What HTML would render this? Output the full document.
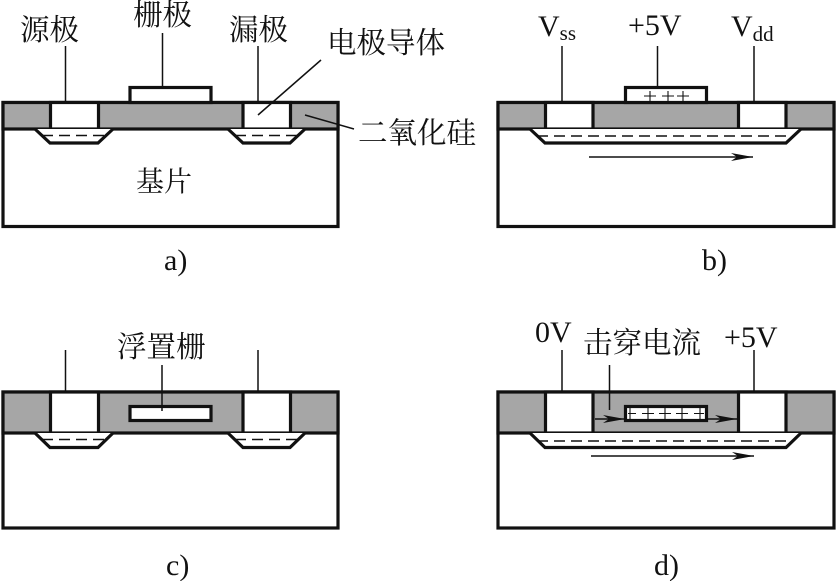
<!DOCTYPE html>
<html><head><meta charset="utf-8"><style>
html,body{margin:0;padding:0;background:#fff}
svg{display:block}
text{fill:#111;font-family:"Liberation Serif","Noto Serif CJK SC",serif}
.c{font-size:29.500px}
.l{font-size:30px}
.s{font-size:21px}
</style></head><body>
<svg width="836" height="581" viewBox="0 0 836 581" xmlns="http://www.w3.org/2000/svg">
<defs><marker id="a" markerWidth="24" markerHeight="10" refX="22" refY="5" orient="auto" markerUnits="userSpaceOnUse"><path d="M0 1L22 5L0 9L6 5Z" fill="#111"/></marker></defs>
<g fill="none" stroke="#111" stroke-width="3.2">
<!-- a -->
<rect x="3" y="102.500" width="335" height="124" fill="#fff"/>
<rect x="3" y="102.500" width="335" height="26.500" fill="#a6a6a6"/>
<rect x="50.500" y="102.500" width="48" height="26.500" fill="#fff"/>
<rect x="243" y="102.500" width="47.500" height="26.500" fill="#fff"/>
<rect x="130" y="87.500" width="81" height="15" fill="#fff"/>
<path d="M35 129L50 143H98L113 129" fill="#fff"/>
<path d="M228 129L243 143H290L305 129" fill="#fff"/>
<!-- b -->
<rect x="498" y="102.500" width="336" height="124" fill="#fff"/>
<rect x="498" y="102.500" width="336" height="26.500" fill="#a6a6a6"/>
<rect x="545.500" y="102.500" width="47.500" height="26.500" fill="#fff"/>
<rect x="738.500" y="102.500" width="47.500" height="26.500" fill="#fff"/>
<rect x="625.500" y="87.500" width="81" height="15" fill="#fff"/>
<path d="M530 129L545 143H786L801 129" fill="#fff"/>
<!-- c -->
<rect x="3" y="392" width="335" height="136" fill="#fff"/>
<rect x="3" y="392" width="335" height="41" fill="#a6a6a6"/>
<rect x="50.500" y="392" width="48" height="41" fill="#fff"/>
<rect x="243" y="392" width="47.500" height="41" fill="#fff"/>
<rect x="130" y="406.500" width="81" height="14" fill="#fff"/>
<path d="M35 433L50 447.500H98L113 433" fill="#fff"/>
<path d="M228 433L243 447.500H290L305 433" fill="#fff"/>
<!-- d -->
<rect x="498" y="392" width="336" height="136" fill="#fff"/>
<rect x="498" y="392" width="336" height="41" fill="#a6a6a6"/>
<rect x="545.500" y="392" width="47.500" height="41" fill="#fff"/>
<rect x="738.500" y="392" width="47.500" height="41" fill="#fff"/>
<rect x="625.500" y="406.500" width="81" height="14" fill="#fff"/>
<path d="M530 433L545 447.500H786L801 433" fill="#fff"/>
</g>
<g fill="none" stroke="#111" stroke-width="1.500">
<path d="M65.500 46V102M162.500 33V88M258 46V102"/>
<path d="M321 60L258 115M305 115L354 129"/>
<path d="M562 46V102M657.500 46V88M754 46V102"/>
<path d="M65.500 350V392M258 350V392M162 365V411"/>
<path d="M562 350V392M754 350V392M609.500 365V410"/>
<path d="M42 135.500H106M235 135.500H298M537 136H793M42 439.500H106M235 439.500H298M537 441H793" stroke-dasharray="11 6"/>
<path d="M589 157H753" marker-end="url(#a)"/>
<path d="M591 456H754" marker-end="url(#a)"/>
<path d="M595 419H625" marker-end="url(#a)"/>
<path d="M707 419H737" marker-end="url(#a)"/>
<path d="M650 91V101M668 91V101M683 91V101M644 96H656M662 96H674M677 96H689" stroke-width="1.100"/>
<path d="M630 408V419M648 408V419M665 408V419M682 408V419M700 408V419M628 413.500H636M642 413.500H654M659 413.500H671M676 413.500H688M694 413.500H704" stroke-width="1.100"/>
</g>
<text class="c" x="20" y="40">源极</text>
<text class="c" x="133" y="25">栅极</text>
<text class="c" x="229" y="40">漏极</text>
<text class="c" x="327" y="53">电极导体</text>
<text class="c" x="358" y="143">二氧化硅</text>
<text class="c" x="136" y="191" style="font-size:28px">基片</text>
<text class="l" x="164" y="270">a)</text>
<text class="l" x="702" y="270">b)</text>
<text class="l" x="166" y="575">c)</text>
<text class="l" x="654" y="575">d)</text>
<text class="l" x="538" y="36">V<tspan class="s" dy="4">ss</tspan></text>
<text class="l" x="628" y="35">+5V</text>
<text class="l" x="731" y="36">V<tspan class="s" dy="5">dd</tspan></text>
<text class="c" x="117" y="357">浮置栅</text>
<text class="l" x="535" y="342">0V</text>
<text class="c" x="583" y="353">击穿电流</text>
<text class="l" x="724" y="347">+5V</text>
</svg>
</body></html>
